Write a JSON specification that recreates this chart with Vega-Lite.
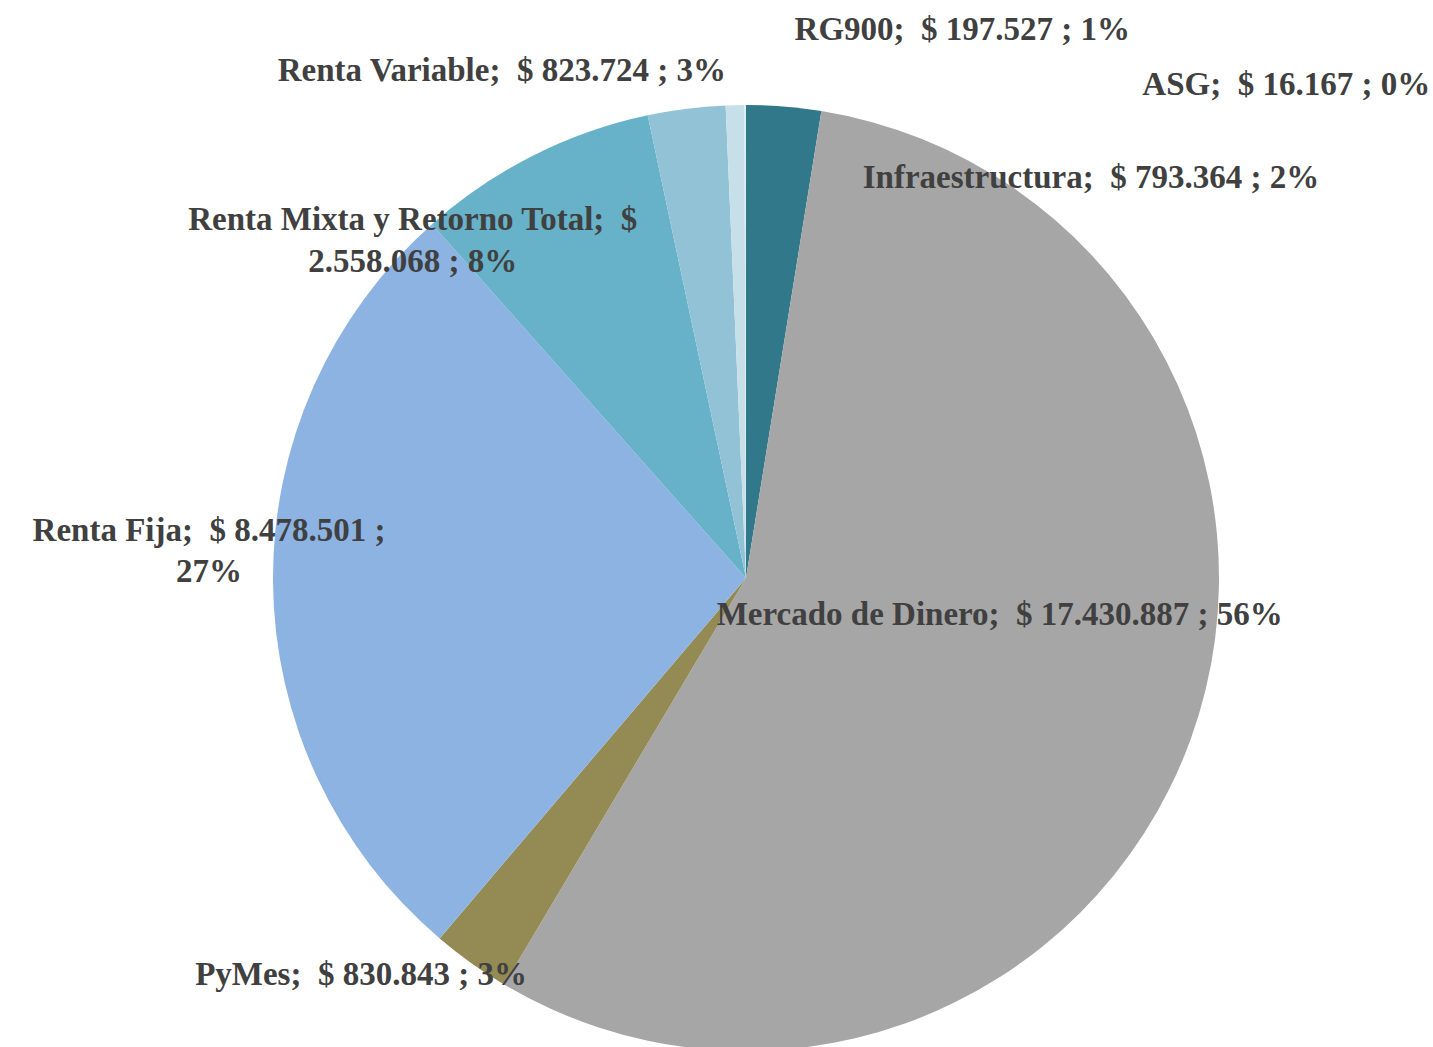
{
  "$schema": "https://vega.github.io/schema/vega-lite/v6.json",
  "width": 1300,
  "height": 900,
  "autosize": {"type": "none"},
  "padding": {"left": 96, "top": 128, "right": 37, "bottom": 19},
  "background": "white",
  "config": {"view": {"stroke": null}},
  "data": {
    "values": [
      {"orden": 1, "cat": "Infraestructura", "valor": 793364, "label": "Infraestructura; \u00a0$ 793.364 ; 2%"},
      {"orden": 2, "cat": "Mercado de Dinero", "valor": 17430887, "label": "Mercado de Dinero; \u00a0$ 17.430.887 ; 56%"},
      {"orden": 3, "cat": "PyMes", "valor": 830843, "label": "PyMes; \u00a0$ 830.843 ; 3%"},
      {"orden": 4, "cat": "Renta Fija", "valor": 8478501, "label": "Renta Fija; \u00a0$ 8.478.501 ;|27%"},
      {"orden": 5, "cat": "Renta Mixta y Retorno Total", "valor": 2558068, "label": "Renta Mixta y Retorno Total; \u00a0$|2.558.068 ; 8%"},
      {"orden": 6, "cat": "Renta Variable", "valor": 823724, "label": "Renta Variable; \u00a0$ 823.724 ; 3%"},
      {"orden": 7, "cat": "RG900", "valor": 197527, "label": "RG900; \u00a0$ 197.527 ; 1%"},
      {"orden": 8, "cat": "ASG", "valor": 16167, "label": "ASG; \u00a0$ 16.167 ; 0%"}
    ]
  },
  "encoding": {
    "theta": {"field": "valor", "type": "quantitative", "stack": true},
    "order": {"field": "orden", "type": "quantitative", "sort": "ascending"}
  },
  "layer": [
    {
      "mark": {"type": "arc", "radius": 473},
      "encoding": {
        "color": {
          "field": "cat",
          "type": "nominal",
          "legend": null,
          "scale": {
            "domain": ["Infraestructura", "Mercado de Dinero", "PyMes", "Renta Fija", "Renta Mixta y Retorno Total", "Renta Variable", "RG900", "ASG"],
            "range": ["#31788A", "#A6A6A6", "#948A54", "#8DB3E2", "#67B2C8", "#92C2D5", "#C6DFE9", "#DAEEF3"]
          }
        }
      }
    },
    {
      "mark": {"type": "text", "radius": 400, "dx": 313, "dy": -1, "font": "Liberation Serif", "fontWeight": "bold", "fontSize": 33, "color": "#404040", "align": "center", "baseline": "middle"},
      "encoding": {"text": {"field": "label", "condition": {"test": "datum.cat !== 'Infraestructura'", "value": ""}}}
    },
    {
      "mark": {"type": "text", "radius": 270, "dx": 0, "dy": -55, "font": "Liberation Serif", "fontWeight": "bold", "fontSize": 33, "color": "#404040", "align": "center", "baseline": "middle"},
      "encoding": {"text": {"field": "label", "condition": {"test": "datum.cat !== 'Mercado de Dinero'", "value": ""}}}
    },
    {
      "mark": {"type": "text", "radius": 490, "dx": -100, "dy": -2, "font": "Liberation Serif", "fontWeight": "bold", "fontSize": 33, "color": "#404040", "align": "center", "baseline": "middle"},
      "encoding": {"text": {"field": "label", "condition": {"test": "datum.cat !== 'PyMes'", "value": ""}}}
    },
    {
      "mark": {"type": "text", "radius": 537, "dx": 0, "dy": -53, "lineBreak": "|", "lineHeight": 41, "font": "Liberation Serif", "fontWeight": "bold", "fontSize": 33, "color": "#404040", "align": "center", "baseline": "middle"},
      "encoding": {"text": {"field": "label", "condition": {"test": "datum.cat !== 'Renta Fija'", "value": ""}}}
    },
    {
      "mark": {"type": "text", "radius": 380, "dx": -162, "dy": -19, "lineBreak": "|", "lineHeight": 42, "font": "Liberation Serif", "fontWeight": "bold", "fontSize": 33, "color": "#404040", "align": "center", "baseline": "middle"},
      "encoding": {"text": {"field": "label", "condition": {"test": "datum.cat !== 'Renta Mixta y Retorno Total'", "value": ""}}}
    },
    {
      "mark": {"type": "text", "radius": 510, "dx": -180, "dy": -1, "font": "Liberation Serif", "fontWeight": "bold", "fontSize": 33, "color": "#404040", "align": "center", "baseline": "middle"},
      "encoding": {"text": {"field": "label", "condition": {"test": "datum.cat !== 'Renta Variable'", "value": ""}}}
    },
    {
      "mark": {"type": "text", "radius": 548, "dx": 229, "dy": 0, "font": "Liberation Serif", "fontWeight": "bold", "fontSize": 33, "color": "#404040", "align": "center", "baseline": "middle"},
      "encoding": {"text": {"field": "label", "condition": {"test": "datum.cat !== 'RG900'", "value": ""}}}
    },
    {
      "mark": {"type": "text", "radius": 493, "dx": 685, "dy": 0, "font": "Liberation Serif", "fontWeight": "bold", "fontSize": 33, "color": "#404040", "align": "right", "baseline": "middle"},
      "encoding": {"text": {"field": "label", "condition": {"test": "datum.cat !== 'ASG'", "value": ""}}}
    }
  ]
}
